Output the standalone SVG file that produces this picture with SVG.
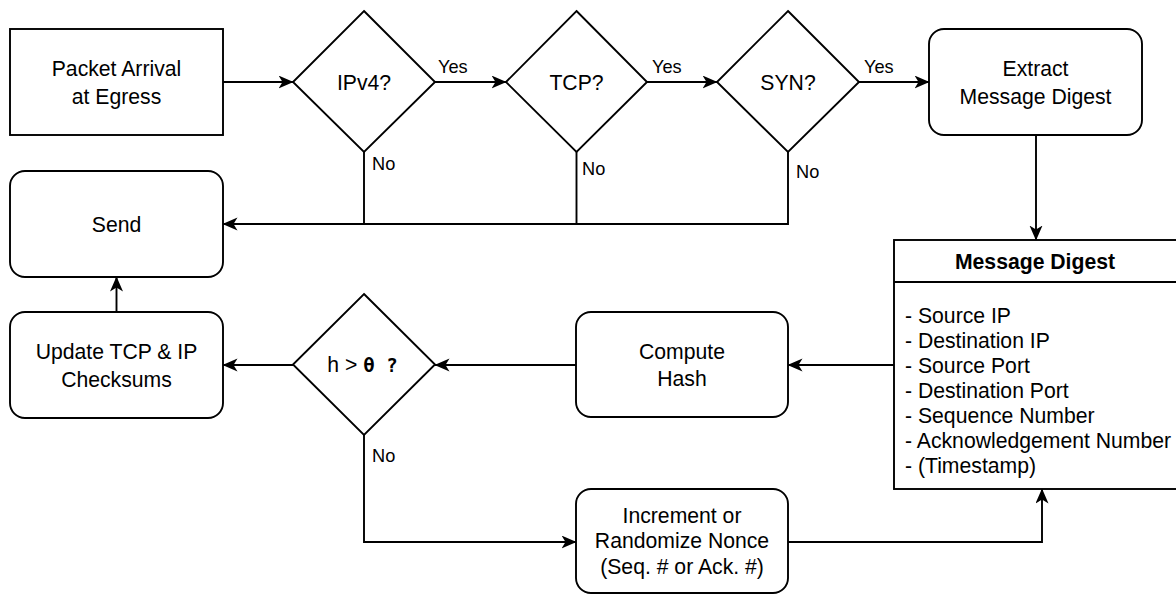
<svg xmlns="http://www.w3.org/2000/svg" width="1176" height="595" viewBox="0 0 1176 595">
<defs>
<marker id="arr" markerUnits="userSpaceOnUse" markerWidth="16" markerHeight="14" refX="14.5" refY="6.5" orient="auto">
<path d="M0,0 L15,6.5 L0,13 L4,6.5 Z" fill="#000"/>
</marker>
<style>
.box{fill:#fff;stroke:#000;stroke-width:1.9}
.ln{fill:none;stroke:#000;stroke-width:1.9}
.t{font-family:"Liberation Sans",Arial,sans-serif;font-size:21.2px;fill:#000;text-anchor:middle}
.tl{font-family:"Liberation Sans",Arial,sans-serif;font-size:21.2px;fill:#000}
.e{font-family:"Liberation Sans",Arial,sans-serif;font-size:18.2px;fill:#000}
</style>
</defs>
<rect width="1176" height="595" fill="#fff"/>
<g id="connectors">
<path class="ln" d="M223,82 H293" marker-end="url(#arr)"/>
<path class="ln" d="M435,82 H506" marker-end="url(#arr)"/>
<path class="ln" d="M647,82 H717" marker-end="url(#arr)"/>
<path class="ln" d="M859,82 H929" marker-end="url(#arr)"/>
<path class="ln" d="M1036,135 V240" marker-end="url(#arr)"/>
<path class="ln" d="M364,152 V224"/>
<path class="ln" d="M576.5,152 V224"/>
<path class="ln" d="M788,152 V224 H223" marker-end="url(#arr)"/>
<path class="ln" d="M894,365 H788" marker-end="url(#arr)"/>
<path class="ln" d="M576,365 H435" marker-end="url(#arr)"/>
<path class="ln" d="M293,365 H223" marker-end="url(#arr)"/>
<path class="ln" d="M116.5,312 V277" marker-end="url(#arr)"/>
<path class="ln" d="M364,435 V542 H576" marker-end="url(#arr)"/>
<path class="ln" d="M788,542 H1042 V489" marker-end="url(#arr)"/>
<text class="e" x="438" y="73">Yes</text>
<text class="e" x="652" y="73">Yes</text>
<text class="e" x="864" y="73">Yes</text>
<text class="e" x="372" y="170">No</text>
<text class="e" x="582" y="175">No</text>
<text class="e" x="796" y="177.5">No</text>
<text class="e" x="372" y="462">No</text>
</g>
<g id="packet">
<rect class="box" x="10" y="29" width="213" height="106"/>
<text class="t" x="116.5" y="76">Packet Arrival</text>
<text class="t" x="116.5" y="104">at Egress</text>
</g>
<g id="ipv4">
<polygon class="box" points="364,11 435,82 364,152 293,82"/>
<text class="t" x="364" y="90">IPv4?</text>
</g>
<g id="tcp">
<polygon class="box" points="576.5,11 647,82 576.5,152 506,82"/>
<text class="t" x="576.5" y="90">TCP?</text>
</g>
<g id="syn">
<polygon class="box" points="788,11 859,82 788,152 717,82"/>
<text class="t" x="788" y="90">SYN?</text>
</g>
<g id="extract">
<rect class="box" x="929" y="29" width="213" height="106" rx="15"/>
<text class="t" x="1035.5" y="76">Extract</text>
<text class="t" x="1035.5" y="104">Message Digest</text>
</g>
<g id="send">
<rect class="box" x="10" y="171" width="213" height="106" rx="15"/>
<text class="t" x="116.5" y="231.5">Send</text>
</g>
<g id="digest">
<rect class="box" x="894" y="240" width="285" height="249"/>
<line class="ln" x1="894" y1="282" x2="1179" y2="282"/>
<text class="t" x="1035" y="269" font-weight="bold">Message Digest</text>
<text class="tl" x="905" y="323.4">- Source IP</text>
<text class="tl" x="905" y="348.3">- Destination IP</text>
<text class="tl" x="905" y="373.2">- Source Port</text>
<text class="tl" x="905" y="398.1">- Destination Port</text>
<text class="tl" x="905" y="423">- Sequence Number</text>
<text class="tl" x="905" y="447.9">- Acknowledgement Number</text>
<text class="tl" x="905" y="472.8">- (Timestamp)</text>
</g>
<g id="compute">
<rect class="box" x="576" y="312" width="212" height="105" rx="15"/>
<text class="t" x="682" y="358.5">Compute</text>
<text class="t" x="682" y="386">Hash</text>
</g>
<g id="threshold">
<polygon class="box" points="364,294 435,364.5 364,435 293,364.5"/>
<text class="t" x="362.5" y="372">h &gt; <tspan font-weight="bold" font-family="'DejaVu Sans Mono',monospace" font-size="19">θ ?</tspan></text>
</g>
<g id="update">
<rect class="box" x="10" y="312" width="213" height="106" rx="15"/>
<text class="t" x="116.5" y="359">Update TCP &amp; IP</text>
<text class="t" x="116.5" y="386.5">Checksums</text>
</g>
<g id="nonce">
<rect class="box" x="576" y="489" width="212" height="104" rx="15"/>
<text class="t" x="682" y="523">Increment or</text>
<text class="t" x="682" y="548">Randomize Nonce</text>
<text class="t" x="682" y="573.5">(Seq. # or Ack. #)</text>
</g>
</svg>
